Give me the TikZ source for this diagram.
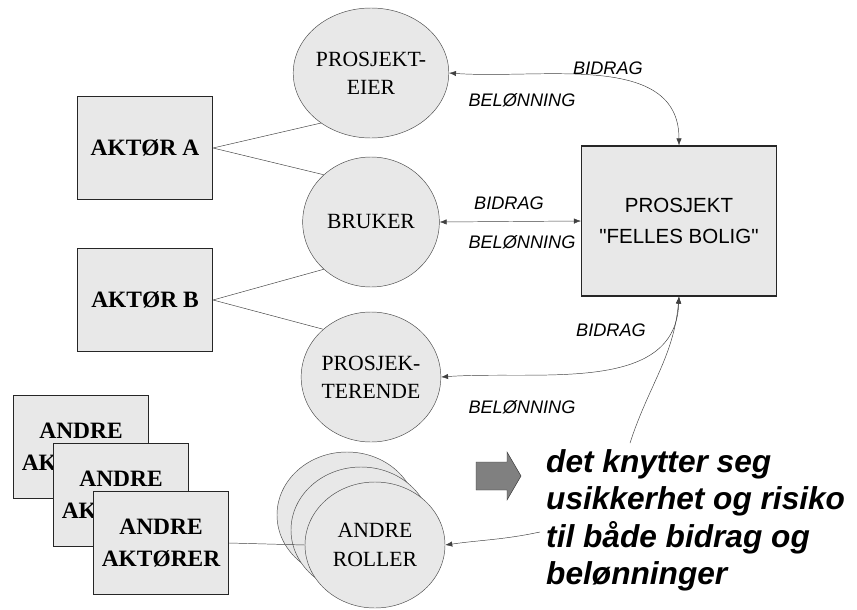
\documentclass[tikz,border=0pt]{standalone}
\usepackage{fontspec}
\setmainfont{Liberation Serif}
\setsansfont{Liberation Sans}[Ligatures=TeXOff]
\usetikzlibrary{shapes.geometric,arrows.meta}

\begin{document}
\begin{tikzpicture}[x={(0.03cm,0cm)}, y={(0cm,-0.03cm)},
role/.style={ellipse, draw=black!70, fill=gray!18, inner sep=0pt,
  minimum width=4.1cm, minimum height=3.9cm, align=center,
  font=\fontsize{18.5}{24}\selectfont},
actor/.style={rectangle, draw=black!85, line width=0.9pt, fill=gray!18,
  minimum width=4.05cm, minimum height=3.08cm, align=center,
  font=\bfseries\fontsize{20}{27}\selectfont},
flow/.style={font=\sffamily\itshape\fontsize{15.5}{18}\selectfont, inner sep=0pt},
link/.style={{Latex[length=6pt,width=4.5pt]}-{Latex[length=6pt,width=4.5pt]}, draw=black!75}]

\useasboundingbox (0,0) rectangle (857,610);

% roles
\node[role] (eier) at (371,73) {PROSJEKT-\\EIER};
\node[role] (bruker) at (371,222) {BRUKER};
\node[role] (terende) at (371,377) {PROSJEK-\\TERENDE};
\node[role, minimum width=4.2cm, minimum height=3.78cm] (roller1) at (347,515) {};
\node[role, minimum width=4.2cm, minimum height=3.78cm] (roller2) at (361,530) {};
\node[role, minimum width=4.2cm, minimum height=3.78cm] (roller) at (375,545) {ANDRE\\ROLLER};

% actors
\node[actor] (aktA) at (145,148) {AKTØR A};
\node[actor] (aktB) at (145,300) {AKTØR B};
\node[actor] (andre1) at (81,447) {ANDRE\\AKTØRER};
\node[actor] (andre2) at (121,495) {ANDRE\\AKTØRER};
\node[actor] (andre) at (161,543) {ANDRE\\AKTØRER};

% project
\node[rectangle, draw=black!85, line width=0.9pt, fill=gray!18,
  minimum width=5.85cm, minimum height=4.5cm, align=center,
  font=\sffamily\fontsize{17.5}{26}\selectfont] (prosjekt) at (679,221)
  {PROSJEKT\\"FELLES BOLIG"};

\draw[black!75]
(aktA.east) -- (eier.-135)
(aktA.east) -- (bruker.135)
(aktB.east) -- (bruker.-135)
(aktB.east) -- (terende.135)
(andre.east) -- (roller.west);

\draw[link] (eier.east) to[out=-4,in=90] (prosjekt.north);
\draw[link] (bruker.east) -- (prosjekt.west);
\draw[link] (terende.east) to[out=4,in=-92] (prosjekt.south);

\coordinate (usikA) at (630,443);
\coordinate (usikB) at (540,532);
\draw[black!75, -{Latex[length=6pt,width=4.5pt]}] (usikA) to[out=72,in=-95] (prosjekt.south);
\draw[black!75, -{Latex[length=6pt,width=4.5pt]}] (usikB) to[out=192,in=8] (roller.east);

\foreach \p/\t in {
    {608,68}/BIDRAG,
    {522,100}/BELØNNING,
    {509,203}/BIDRAG,
    {522,242}/BELØNNING,
    {611,330}/BIDRAG,
    {522,407}/BELØNNING}
{
    \node[flow] at (\p) {\t};
}

% big arrow
\draw[draw=black!80, fill=black!50] (476,462) -- (507,462) -- (507,452) -- (521,476)
  -- (507,500) -- (507,490) -- (476,490) -- cycle;

\node[anchor=north west, align=left, inner sep=0pt,
  font=\sffamily\bfseries\itshape\fontsize{27}{32}\selectfont] (risiko) at (546,449)
  {det knytter seg\\usikkerhet og risiko\\til både bidrag og\\belønninger};

\end{tikzpicture}
\end{document}
